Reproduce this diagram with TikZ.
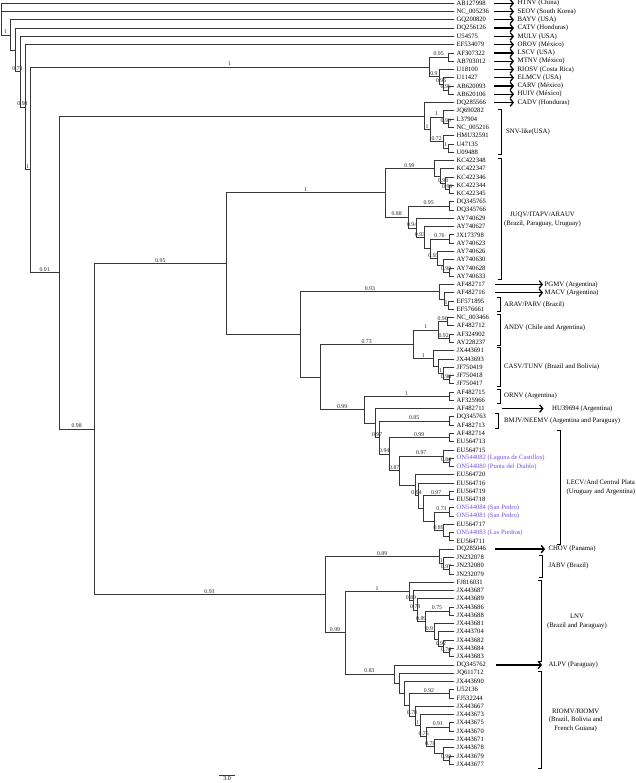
\documentclass[tikz,border=0pt]{standalone}
\usepackage{fontspec}
\setmainfont{Liberation Serif}
\usetikzlibrary{arrows.meta}
\definecolor{onc}{RGB}{118,78,232}
\definecolor{brc}{RGB}{55,55,55}
\newcommand\BR[2]{\draw[branch] (#1) |- (#2);}
\newcommand\BRL[3]{\draw[branch] (#1) |- node[sup]{#3} (#2);}
\begin{document}
\begin{tikzpicture}[x=1pt,y=-1pt,
 branch/.style={draw=brc, line width=0.75pt},
 sup/.style={pos=0.75, above, inner sep=0.7pt, font=\fontsize{5.8}{6}\selectfont, text=black!85},
 tiplab/.style={anchor=west, inner sep=0pt, font=\fontsize{6.6}{7}\selectfont},
 reglab/.style={anchor=west, inner sep=0pt, font=\fontsize{6.8}{7}\selectfont},
 grplab/.style={align=center, inner sep=0pt, font=\fontsize{6.8}{8.7}\selectfont},
 arr/.style={line width=1.3pt, -{Straight Barb[length=3pt,width=7.5pt,line width=1.3pt]}},
 brk/.style={draw=black, line width=0.75pt}]
\useasboundingbox (0,0) rectangle (636,783);
\fill[white] (0,0) rectangle (636,783);

% tips
\foreach \lab [count=\i] in {AB127998,NC\_005236,GQ200820,DQ256126,U54575,EF534079,AF307322,AB703012,U18100,U11427,AB620093,AB620106,DQ285566,JQ690282,L37904,NC\_005216,HMU32591,U47135,U09488,KC422348,KC422347,KC422346,KC422344,KC422345,DQ345765,DQ345766,AY740629,AY740627,JX173798,AY740623,AY740626,AY740630,AY740628,AY740633,AF482717,AF482716,EF571895,EF576661,NC\_003466,AF482712,AF324902,AY228237,JX443691,JX443693,JF750419,JF750418,JF750417,AF482715,AF325966,AF482711,DQ345763,AF482713,AF482714,EU564713,EU564715,{\textcolor{onc}{ON544082 (Laguna de Castillos)}},{\textcolor{onc}{ON544080 (Punta del Diablo)}},EU564720,EU564716,EU564719,EU564718,{\textcolor{onc}{ON544084 (San Pedro)}},{\textcolor{onc}{ON544081 (San Pedro)}},EU564717,{\textcolor{onc}{ON544083 (Las Piedras)}},EU564711,DQ285046,JN232078,JN232080,JN232079,FJ816031,JX443687,JX443689,JX443686,JX443688,JX443681,JX443704,JX443682,JX443684,JX443683,DQ345762,JQ611712,JX443690,U52136,FJ532244,JX443667,JX443673,JX443675,JX443670,JX443671,JX443678,JX443679,JX443677} {
  \coordinate (t\i) at (454,{3.3+(\i-1)*8.27});
  \node[tiplab] (L\i) at (456.5,{3.3+(\i-1)*8.27}) {\lab};
}

% internal nodes
\coordinate (root) at (1,19.10);
\coordinate (N1) at (10,34.89);
\coordinate (N2) at (15,49.94);
\coordinate (N3) at (20,71.77);
\coordinate (N4) at (25,107.16);
\coordinate (N5) at (30,169.68);
\coordinate (NA) at (429,66.88);
\coordinate (NA1) at (448.3,57.06);
\coordinate (NA2) at (439,76.70);
\coordinate (NA3) at (443.3,83.93);
\coordinate (NA4) at (448.3,90.14);
\coordinate (N6) at (59.3,272.47);
\coordinate (D) at (424.3,115.98);
\coordinate (S0) at (430,129.42);
\coordinate (S1) at (443.3,117.01);
\coordinate (S1a) at (448.3,123.22);
\coordinate (S2) at (443.3,141.82);
\coordinate (S2a) at (448.3,148.03);
\coordinate (N7) at (94,428.96);
\coordinate (N8) at (226.7,263.44);
\coordinate (J0) at (385,192.57);
\coordinate (J1) at (434,168.18);
\coordinate (J1a) at (440.5,175.94);
\coordinate (J1b) at (445.5,183.17);
\coordinate (J1c) at (449,189.38);
\coordinate (J2) at (408.3,216.96);
\coordinate (K1) at (449,205.92);
\coordinate (K2) at (416,228.01);
\coordinate (K3) at (424,237.70);
\coordinate (L0) at (430,248.82);
\coordinate (L1) at (449,239.00);
\coordinate (L2) at (437,258.64);
\coordinate (L2a) at (443.3,265.87);
\coordinate (L3) at (449,272.08);
\coordinate (N9) at (300.7,334.30);
\coordinate (P) at (439,291.72);
\coordinate (P2) at (444,298.95);
\coordinate (P3) at (448.3,305.16);
\coordinate (Q) at (320,376.88);
\coordinate (A) at (413.3,344.18);
\coordinate (B) at (438.3,329.97);
\coordinate (Ba) at (447,321.70);
\coordinate (B1) at (449,338.24);
\coordinate (C) at (433.3,358.39);
\coordinate (C1) at (438,366.15);
\coordinate (C2) at (443,373.38);
\coordinate (C3) at (449,379.59);
\coordinate (R) at (364.3,409.57);
\coordinate (O) at (449,396.13);
\coordinate (R2) at (375,423.01);
\coordinate (R3) at (379.3,437.49);
\coordinate (Bm) at (449,420.94);
\coordinate (R4) at (389.3,454.05);
\coordinate (E1) at (449,437.48);
\coordinate (E2) at (399.3,470.62);
\coordinate (E3) at (443.3,456.08);
\coordinate (E3a) at (449,462.29);
\coordinate (E4) at (415,485.16);
\coordinate (E5) at (418,495.62);
\coordinate (E6p) at (423.3,508.29);
\coordinate (E6) at (449,495.37);
\coordinate (F) at (434,521.21);
\coordinate (Fa) at (449,511.91);
\coordinate (Fb) at (443.3,530.51);
\coordinate (Fc) at (449,536.72);
\coordinate (N10) at (325,594.49);
\coordinate (T) at (439.3,556.36);
\coordinate (T1) at (443.3,563.59);
\coordinate (T2) at (449,569.80);
\coordinate (U) at (345,632.62);
\coordinate (V) at (409,591.21);
\coordinate (V1) at (413,600.23);
\coordinate (V2) at (417.5,609.98);
\coordinate (V3) at (425,621.22);
\coordinate (V3a) at (449,611.15);
\coordinate (V4) at (434,631.30);
\coordinate (V5) at (438.5,639.06);
\coordinate (V6) at (443.3,646.29);
\coordinate (V7) at (449,652.50);
\coordinate (W) at (394,674.04);
\coordinate (W1) at (399,683.17);
\coordinate (W2) at (404,693.17);
\coordinate (W3) at (409,704.89);
\coordinate (W3a) at (449,693.85);
\coordinate (W4) at (415,715.94);
\coordinate (W5) at (420.7,725.63);
\coordinate (W6) at (426.7,736.75);
\coordinate (W6a) at (449,726.93);
\coordinate (W7) at (434,746.57);
\coordinate (W8) at (443.3,753.80);
\coordinate (W9) at (449,760.01);

% branches
\BR{root}{t1} \BR{root}{t2} \BRL{root}{N1}{1}
\BR{N1}{t3} \BR{N1}{N2}
\BR{N2}{t4} \BRL{N2}{N3}{0.73}
\BR{N3}{t5} \BRL{N3}{N4}{0.98}
\BR{N4}{t6} \BRL{N4}{N5}{1}
\BRL{N5}{NA}{1} \BRL{N5}{N6}{0.91}
\BRL{NA}{NA1}{0.95} \BRL{NA}{NA2}{0.9}
\BR{NA1}{t7} \BR{NA1}{t8}
\BR{NA2}{t9} \BRL{NA2}{NA3}{0.96}
\BR{NA3}{t10} \BRL{NA3}{NA4}{0.96}
\BR{NA4}{t11} \BR{NA4}{t12}
\BR{N6}{D} \BRL{N6}{N7}{0.98}
\BR{D}{t13} \BRL{D}{S0}{1}
\BRL{S0}{S1}{1} \BRL{S0}{S2}{0.72}
\BR{S1}{t14} \BRL{S1}{S1a}{0.96}
\BR{S1a}{t15} \BR{S1a}{t16}
\BR{S2}{t17} \BRL{S2}{S2a}{1}
\BR{S2a}{t18} \BR{S2a}{t19}
\BRL{N7}{N8}{0.95} \BRL{N7}{N10}{0.93}
\BRL{N8}{J0}{1} \BR{N8}{N9}
\BRL{J0}{J1}{0.99} \BRL{J0}{J2}{0.88}
\BR{J1}{t20} \BR{J1}{J1a}
\BR{J1a}{t21} \BRL{J1a}{J1b}{0.98}
\BR{J1b}{t22} \BRL{J1b}{J1c}{0.99}
\BR{J1c}{t23} \BR{J1c}{t24}
\BRL{J2}{K1}{0.95} \BRL{J2}{K2}{0.94}
\BR{K1}{t25} \BR{K1}{t26}
\BR{K2}{t27} \BRL{K2}{K3}{0.93}
\BR{K3}{t28} \BR{K3}{L0}
\BRL{L0}{L1}{0.76} \BRL{L0}{L2}{0.93}
\BR{L1}{t29} \BR{L1}{t30}
\BR{L2}{t31} \BR{L2}{L2a}
\BR{L2a}{t32} \BRL{L2a}{L3}{0.98}
\BR{L3}{t33} \BR{L3}{t34}
\BRL{N9}{P}{0.93} \BR{N9}{Q}
\BR{P}{t35} \BR{P}{P2}
\BR{P2}{t36} \BRL{P2}{P3}{1}
\BR{P3}{t37} \BR{P3}{t38}
\BRL{Q}{A}{0.73} \BRL{Q}{R}{0.99}
\BRL{A}{B}{1} \BRL{A}{C}{1}
\BRL{B}{Ba}{0.96} \BRL{B}{B1}{0.92}
\BR{Ba}{t39} \BR{Ba}{t40}
\BR{B1}{t41} \BR{B1}{t42}
\BR{C}{t43} \BR{C}{C1}
\BR{C1}{t44} \BRL{C1}{C2}{1}
\BR{C2}{t45} \BRL{C2}{C3}{0.96}
\BR{C3}{t46} \BR{C3}{t47}
\BRL{R}{O}{1} \BR{R}{R2}
\BR{O}{t48} \BR{O}{t49}
\BR{R2}{t50} \BRL{R2}{R3}{0.97}
\BRL{R3}{Bm}{0.85} \BRL{R3}{R4}{0.94}
\BR{Bm}{t51} \BR{Bm}{t52}
\BRL{R4}{E1}{0.99} \BRL{R4}{E2}{0.87}
\BR{E1}{t53} \BR{E1}{t54}
\BRL{E2}{E3}{0.97} \BR{E2}{E4}
\BR{E3}{t55} \BRL{E3}{E3a}{0.86}
\BR{E3a}{t56} \BR{E3a}{t57}
\BR{E4}{t58} \BRL{E4}{E5}{0.94}
\BR{E5}{t59} \BR{E5}{E6p}
\BRL{E6p}{E6}{0.97} \BR{E6p}{F}
\BR{E6}{t60} \BR{E6}{t61}
\BRL{F}{Fa}{0.73} \BRL{F}{Fb}{0.89}
\BR{Fa}{t62} \BR{Fa}{t63}
\BR{Fb}{t64} \BR{Fb}{Fc}
\BR{Fc}{t65} \BR{Fc}{t66}
\BRL{N10}{T}{0.89} \BRL{N10}{U}{0.99}
\BR{T}{t67} \BRL{T}{T1}{1}
\BR{T1}{t68} \BRL{T1}{T2}{0.97}
\BR{T2}{t69} \BR{T2}{t70}
\BRL{U}{V}{1} \BRL{U}{W}{0.83}
\BR{V}{t71} \BRL{V}{V1}{0.89}
\BR{V1}{t72} \BRL{V1}{V2}{0.78}
\BR{V2}{t73} \BRL{V2}{V3}{0.89}
\BRL{V3}{V3a}{0.75} \BRL{V3}{V4}{0.9}
\BR{V3a}{t74} \BR{V3a}{t75}
\BR{V4}{t76} \BR{V4}{V5}
\BR{V5}{t77} \BRL{V5}{V6}{0.92}
\BR{V6}{t78} \BRL{V6}{V7}{0.76}
\BR{V7}{t79} \BR{V7}{t80}
\BR{W}{t81} \BR{W}{W1}
\BR{W1}{t82} \BR{W1}{W2}
\BR{W2}{t83} \BR{W2}{W3}
\BRL{W3}{W3a}{0.92} \BRL{W3}{W4}{0.78}
\BR{W3a}{t84} \BR{W3a}{t85}
\BR{W4}{t86} \BRL{W4}{W5}{1}
\BR{W5}{t87} \BRL{W5}{W6}{0.75}
\BRL{W6}{W6a}{0.91} \BRL{W6}{W7}{0.78}
\BR{W6a}{t88} \BR{W6a}{t89}
\BR{W7}{t90} \BR{W7}{W8}
\BR{W8}{t91} \BRL{W8}{W9}{0.98}
\BR{W9}{t92} \BR{W9}{t93}

% arrows to single-virus labels
\foreach \r [count=\i] in {HTNV (China),SEOV (South Korea),BAYV (USA),CATV (Honduras),MULV (USA),OROV (México),LSCV (USA),MTNV (México),RIOSV (Costa Rica),ELMCV (USA),CARV (México),HUIV (México),CADV (Honduras)} {
  \coordinate (aS\i) at (494,{3.3+(\i-1)*8.27});
  \coordinate (aE\i) at (514,{3.3+(\i-1)*8.27});
  \node[reglab] (rg\i) at (517.5,{3.3+(\i-1)*8.27}) {\r};
  \draw[arr] (aS\i) -- (aE\i);
}
\coordinate (pgS) at (495,284.48); \coordinate (pgE) at (543,284.48);
\node[reglab] (pgL) at (544.5,284.48) {PGMV (Argentina)};
\draw[arr] (pgS) -- (pgE);
\coordinate (maS) at (495,292.75); \coordinate (maE) at (543,292.75);
\node[reglab] (maL) at (544.5,292.75) {MACV (Argentina)};
\draw[arr] (maS) -- (maE);
\coordinate (huS) at (502,408.53); \coordinate (huE) at (543.5,408.53);
\node[reglab] (huL) at (552,408.53) {HU39694 (Argentina)};
\draw[arr] (huS) -- (huE);
\coordinate (chS) at (495,549.12); \coordinate (chE) at (545,549.12);
\node[reglab] (chL) at (548.3,549.12) {CHOV (Panama)};
\draw[arr] (chS) -- (chE);
\coordinate (alS) at (496,664.90); \coordinate (alE) at (542,664.90);
\node[reglab] (alL) at (548.3,664.90) {ALPV (Paraguay)};
\draw[arr] (alS) -- (alE);

% brackets
\coordinate (snvA) at (498.3,109); \coordinate (snvB) at (498.3,154.5);
\draw[brk] (snvA) -- ++(3.4,0) |- (snvB);
\node[reglab] (snvL) at (506,131.5) {SNV-like(USA)};
\coordinate (juqA) at (498.3,158.5); \coordinate (juqB) at (498.3,279);
\draw[brk] (juqA) -- ++(3.4,0) |- (juqB);
\node[grplab] (juqL) at (542.5,219.5) {JUQV/ITAPV/ARAUV\\(Brazil, Paraguay, Uruguay)};
\coordinate (araA) at (497.3,297.5); \coordinate (araB) at (497.3,311.5);
\draw[brk] (araA) -- ++(3.4,0) |- (araB);
\node[reglab] (araL) at (504,305) {ARAV/PARV (Brazil)};
\coordinate (andA) at (497.3,314.5); \coordinate (andB) at (497.3,345);
\draw[brk] (andA) -- ++(3.4,0) |- (andB);
\node[reglab] (andL) at (504,328.3) {ANDV (Chile and Argentina)};
\coordinate (casA) at (497.3,347.5); \coordinate (casB) at (497.3,386.5);
\draw[brk] (casA) -- ++(3.4,0) |- (casB);
\node[reglab] (casL) at (504,367.3) {CASV/TUNV (Brazil and Bolivia)};
\coordinate (ornA) at (497.3,389.5); \coordinate (ornB) at (497.3,403);
\draw[brk] (ornA) -- ++(3.4,0) |- (ornB);
\node[reglab] (ornL) at (504,396.3) {ORNV (Argentina)};
\coordinate (bmjA) at (494.9,413.5); \coordinate (bmjB) at (494.9,428);
\draw[brk] (bmjA) -- ++(3.4,0) |- (bmjB);
\node[reglab] (bmjL) at (504,421) {BMJV/NEEMV (Argentina and Paraguay)};
\coordinate (lecA) at (556.6,430); \coordinate (lecB) at (556.6,544.5);
\draw[brk] (lecA) -- ++(3.4,0) |- (lecB);
\node[grplab] (lecL) at (600.8,487.5) {LECV/And Central Plata\\(Uruguay and Argentina)};
\coordinate (jabA) at (538.9,555); \coordinate (jabB) at (538.9,577);
\draw[brk] (jabA) -- ++(3.4,0) |- (jabB);
\node[reglab] (jabL) at (548.3,565.7) {JABV (Brazil)};
\coordinate (lnvA) at (538.3,580); \coordinate (lnvB) at (538.3,661.5);
\draw[brk] (lnvA) -- ++(3.4,0) |- (lnvB);
\node[grplab] (lnvL) at (577,621.2) {LNV\\(Brazil and Paraguay)};
\coordinate (rioA) at (538.3,671.5); \coordinate (rioB) at (538.3,768);
\draw[brk] (rioA) -- ++(3.4,0) |- (rioB);
\node[grplab] (rioL) at (575.7,720.3) {RIOMV/RIOMV\\(Brazil, Bolivia and\\French Guiana)};

% scale bar
\coordinate (sbA) at (219,775.5); \coordinate (sbB) at (235,775.5);
\draw[branch] (sbA) -- node[below, inner sep=1pt, font=\fontsize{6}{6}\selectfont] (sbL) {3.0} (sbB);
\end{tikzpicture}
\end{document}
